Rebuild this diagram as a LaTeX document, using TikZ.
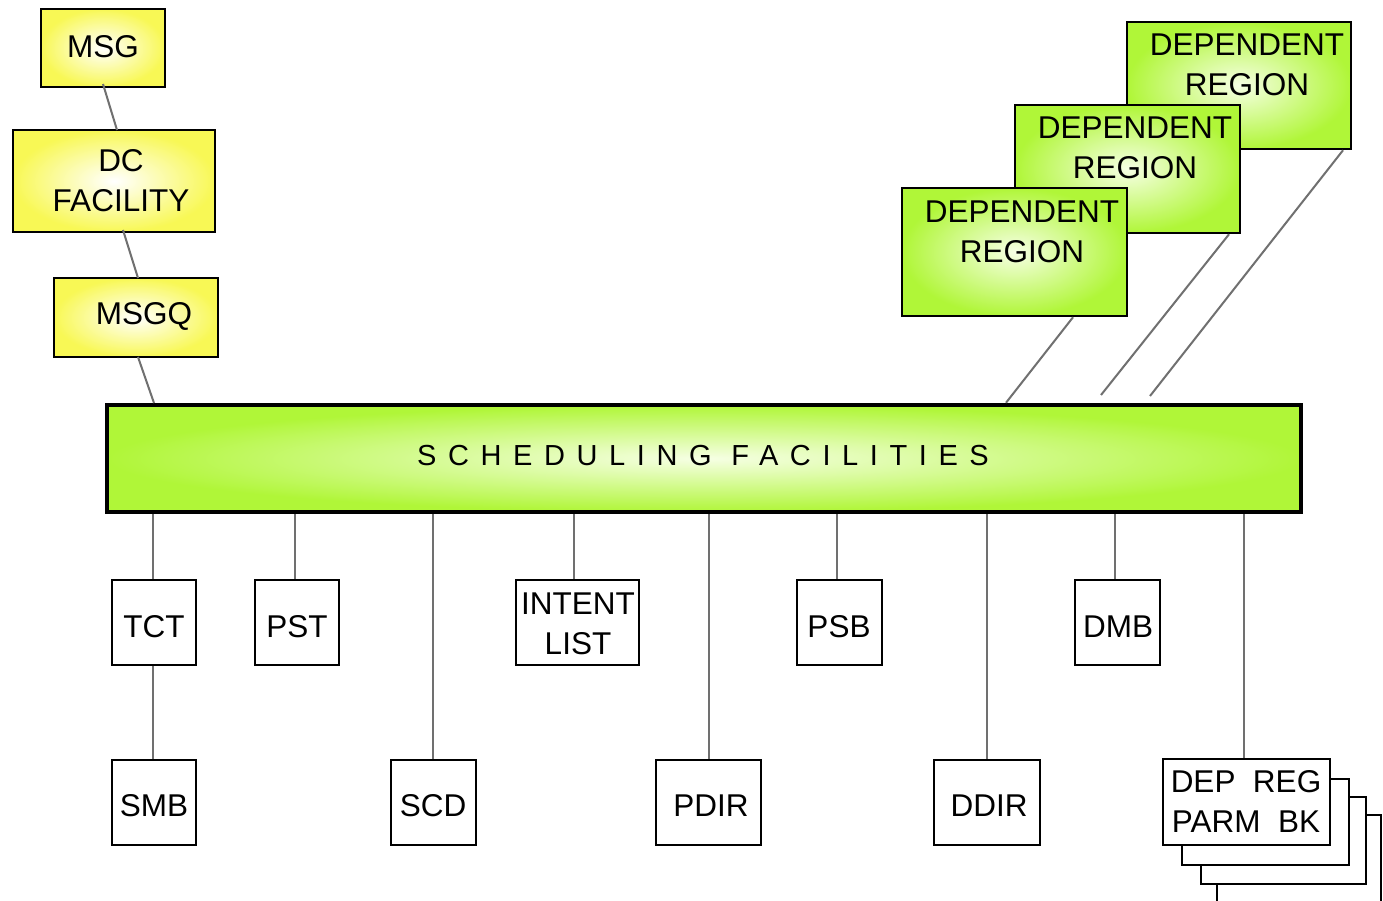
\documentclass[tikz,border=0pt]{standalone}
\usepackage{fontspec}
\setmainfont{Liberation Sans}
\newfontfamily\barfont[LetterSpace=40]{Liberation Sans}
\usetikzlibrary{calc}
\definecolor{yedge}{RGB}{248,248,85}
\definecolor{gedge}{RGB}{176,246,56}
\definecolor{gin}{RGB}{246,255,228}
\definecolor{conncol}{RGB}{112,112,112}
\begin{document}
\begin{tikzpicture}[x=1pt,y=-1pt,
  font=\fontsize{31.5}{40}\selectfont,
  ybox/.style={draw=black, line width=2.5pt, inner color=white, outer color=yedge, inner sep=0pt},
  gbox/.style={draw=black, line width=2.5pt, inner color=gin, outer color=gedge, inner sep=0pt},
  barbox/.style={draw=black, line width=4.5pt, inner color=gin, outer color=gedge, inner sep=0pt},
  wbox/.style={draw=black, line width=2pt, fill=white, inner sep=0pt},
  conn/.style={draw=conncol, line width=2pt},
  txt/.style={align=center, inner sep=0pt}]
\clip (0,0) rectangle (1383,900);
\fill[white] (0,0) rectangle (1383,900);

% --- yellow chain ---
\node[ybox, minimum width=124, minimum height=78] (msg) at (103,48) {};
\node[txt] (msgt) at (103,47) {MSG};
\node[ybox, minimum width=202, minimum height=102] (dc) at (114,181) {};
\node[txt] (dct) at (121,181) {DC\\FACILITY};
\node[ybox, minimum width=164, minimum height=79] (msgq) at (136,317.5) {};
\node[txt] (msgqt) at (144,316) {MSGQ};

% --- main bar ---
\node[barbox, minimum width=1194, minimum height=107] (bar) at (704,458.5) {};
\node[txt, font=\barfont\fontsize{29}{35}\selectfont] (bart) at (703,456) {SCHEDULING FACILITIES};

\draw[conn] (103,84) -- (117,130);
\draw[conn] (123,230) -- (138,278);
\draw[conn] (138,357) -- (154,403);

% --- dependent regions ---
\node[gbox, minimum width=224, minimum height=127] (dr3) at (1239,85.5) {};
\node[txt] (dr3t) at (1247,65) {DEPENDENT\\REGION};
\node[gbox, minimum width=225, minimum height=128] (dr2) at (1127.5,169) {};
\node[txt] (dr2t) at (1135,148) {DEPENDENT\\REGION};
\node[gbox, minimum width=225, minimum height=128] (dr1) at (1014.5,252) {};
\node[txt] (dr1t) at (1022,232) {DEPENDENT\\REGION};

\coordinate (e2) at (1101,395);
\coordinate (e3) at (1150,396);
\draw[conn] (1073,0 |- dr1.south) -- (1006,0 |- bar.north);
\draw[conn] (1229,0 |- dr2.south) -- (e2);
\draw[conn] (1343,0 |- dr3.south) -- (e3);

% --- bottom boxes ---
\node[wbox, minimum width=84, minimum height=85] (tct) at (154,622.5) {};
\node[txt] (tctt) at (154,627) {TCT};
\node[wbox, minimum width=84, minimum height=85] (pst) at (297,622.5) {};
\node[txt] (pstt) at (297,627) {PST};
\node[wbox, minimum width=123, minimum height=85] (intent) at (577.5,622.5) {};
\node[txt] (intentt) at (578,624) {INTENT\\LIST};
\node[wbox, minimum width=85, minimum height=85] (psb) at (839.5,622.5) {};
\node[txt] (psbt) at (839,627) {PSB};
\node[wbox, minimum width=85, minimum height=85] (dmb) at (1117.5,622.5) {};
\node[txt] (dmbt) at (1118,627) {DMB};

\node[wbox, minimum width=84, minimum height=85] (smb) at (154,802.5) {};
\node[txt] (smbt) at (154,806) {SMB};
\node[wbox, minimum width=85, minimum height=85] (scd) at (433.5,802.5) {};
\node[txt] (scdt) at (433,806) {SCD};
\node[wbox, minimum width=105, minimum height=85] (pdir) at (708.5,802.5) {};
\node[txt] (pdirt) at (711,806) {PDIR};
\node[wbox, minimum width=106, minimum height=85] (ddir) at (987,802.5) {};
\node[txt] (ddirt) at (989,806) {DDIR};

% stacked parameter blocks (back to front)
\node[wbox, minimum width=164, minimum height=90] (bk3) at (1299,860) {};
\node[wbox, minimum width=165, minimum height=87] (bk2) at (1283.5,840.5) {};
\node[wbox, minimum width=167, minimum height=86] (bk1) at (1265.5,821.5) {};
\node[wbox, minimum width=167, minimum height=86] (bk0) at (1246.5,802) {};
\node[txt] (bkt) at (1246,801) {DEP\ \ REG\\PARM\ \ BK};

% connectors from bar
\draw[conn] (153,0 |- bar.south) -- (153,0 |- tct.north);
\draw[conn] (153,0 |- tct.south) -- (153,0 |- smb.north);
\draw[conn] (295,0 |- bar.south) -- (295,0 |- pst.north);
\draw[conn] (433,0 |- bar.south) -- (433,0 |- scd.north);
\draw[conn] (574,0 |- bar.south) -- (574,0 |- intent.north);
\draw[conn] (709,0 |- bar.south) -- (709,0 |- pdir.north);
\draw[conn] (837,0 |- bar.south) -- (837,0 |- psb.north);
\draw[conn] (987,0 |- bar.south) -- (987,0 |- ddir.north);
\draw[conn] (1115,0 |- bar.south) -- (1115,0 |- dmb.north);
\draw[conn] (1244,0 |- bar.south) -- (1244,0 |- bk0.north);
\end{tikzpicture}
\end{document}
